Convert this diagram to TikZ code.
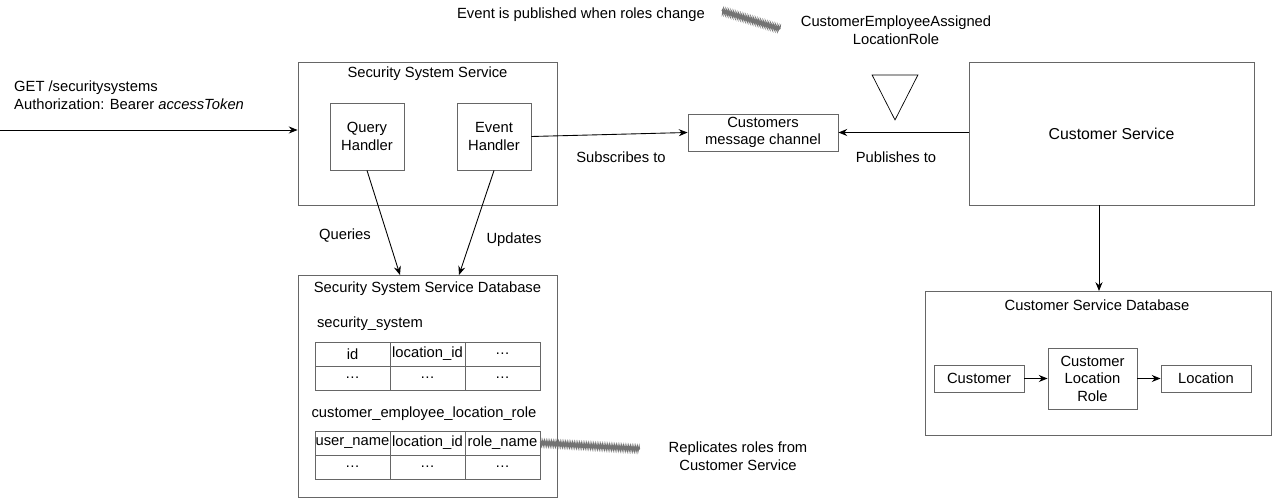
\documentclass[tikz,border=0pt]{standalone}
\usepackage{fontspec}
\setmainfont{Liberation Sans}
\usetikzlibrary{arrows.meta,decorations.pathmorphing,shapes.geometric}
\begin{document}
\begin{tikzpicture}[x=0.02cm, y=-0.02cm, font=\fontsize{8.4}{10}\selectfont,
    box/.style={draw=black!60, line width=0.5pt, inner sep=0pt},
    cell/.style={draw=black!60, minimum width=1.5cm, minimum height=0.48cm, inner sep=0pt},
    conn/.style={-{Stealth[length=5pt,width=4pt]}, line width=0.5pt},
    hatch/.style={line width=0.7pt, black!55, decorate,
      decoration={zigzag, segment length=1pt, amplitude=1.3pt}}]
  \useasboundingbox (0,0) rectangle (1272,499);
  % top caption
  \node (evtxt) at (581,15) {Event is published when roles change};
  \node[align=center] (evname) at (896,30) {CustomerEmployeeAssigned\\LocationRole};
  \coordinate (hA) at (722,11);
  \coordinate (hB) at (780,29);
  \draw[hatch] (hA) -- (hB);
  \node[isosceles triangle, shape border rotate=-90, draw, isosceles triangle apex angle=54,
        minimum height=0.9cm, inner sep=0pt] (ev) at (895,89) {};
  % security system service
  \node[box, minimum width=5.18cm, minimum height=2.86cm] (sss) at (427.5,133.5) {};
  \node at (427.5,74) {Security System Service};
  \node[box, minimum width=1.48cm, minimum height=1.34cm, align=center] (qh) at (367,136.5) {Query\\Handler};
  \node[box, minimum width=1.48cm, minimum height=1.34cm, align=center] (eh) at (494,136.5) {Event\\Handler};
  % request
  \node[align=left, anchor=west] (req) at (8,95) {GET /securitysystems\\Authorization: Bearer \textit{accessToken}};
  \coordinate (src) at (0,130);
  \draw[conn] (src) -- (sss.west |- src);
  % channel and customer service
  \node[box, minimum width=3cm, minimum height=0.74cm, align=center] (chan) at (763,132.5) {Customers\\message channel};
  \node[box, minimum width=5.7cm, minimum height=2.86cm] (cs) at (1111.5,133.5) {\fontsize{9}{11}\selectfont Customer Service};
  \draw[conn] (eh.east) -- (chan.west);
  \draw[conn] (cs.west |- chan) -- (chan.east);
  \node (sub) at (621,157) {Subscribes to};
  \node (pub) at (896,157) {Publishes to};
  % security database
  \node[box, minimum width=5.18cm, minimum height=4.44cm] (sdb) at (427.5,386) {};
  \node at (427.5,289) {Security System Service Database};
  \draw[conn] (qh.south) -- (400,275);
  \draw[conn] (eh.south) -- (459,275);
  \node (qry) at (345,236) {Queries};
  \node (upd) at (514,240) {Updates};
  \node (t1) at (370,324) {security\_system};
  \foreach \n/\t [count=\i] in {id/id, loc/location\_id, more/\dots}
    \node[cell] (a\n) at (352.5+75*\i-75,354) {\t};
  \foreach \n [count=\i] in {x,y,z}
    \node[cell] (b\n) at (352.5+75*\i-75,378) {\dots};
  \node (t2) at (424,414) {customer\_employee\_location\_role};
  \foreach \n/\t [count=\i] in {usr/user\_name, loc/location\_id, role/role\_name}
    \node[cell] (c\n) at (352.5+75*\i-75,443) {\t};
  \foreach \n [count=\i] in {x,y,z}
    \node[cell] (d\n) at (352.5+75*\i-75,467) {\dots};
  \node[align=center] (rep) at (738,456) {Replicates roles from\\Customer Service};
  \coordinate (rA) at (640,449);
  \draw[hatch] (crole.east) -- (rA);
  % customer database
  \node[box, minimum width=6.92cm, minimum height=2.88cm] (cdb) at (1098,363) {};
  \node at (1097,305) {Customer Service Database};
  \draw[conn] (cs.south -| 1099,0) -- (1099,291);
  \node[box, minimum width=1.8cm, minimum height=0.54cm] (cust) at (979,378.5) {Customer};
  \node[box, minimum width=1.78cm, minimum height=1.22cm, align=center] (clr) at (1092.5,378.5) {Customer\\Location\\Role};
  \node[box, minimum width=1.8cm, minimum height=0.54cm] (loc) at (1206,378.5) {Location};
  \draw[conn] (cust) -- (clr);
  \draw[conn] (clr) -- (loc);
\end{tikzpicture}
\end{document}
